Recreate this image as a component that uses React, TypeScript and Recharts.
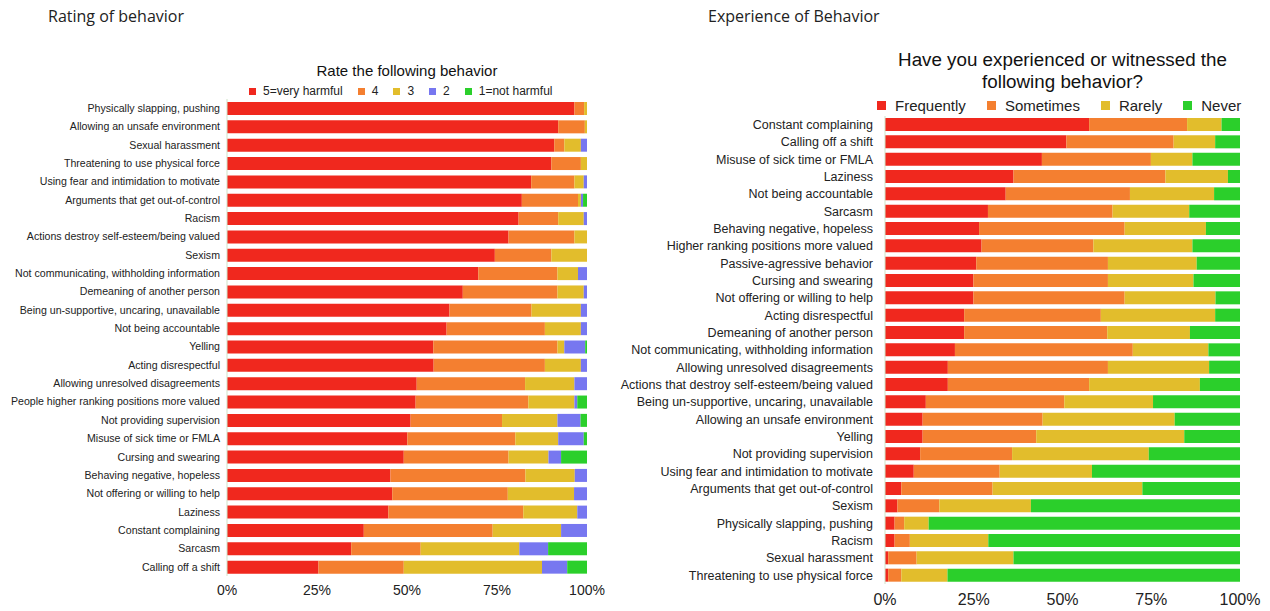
import { BarChart, Bar, XAxis, YAxis } from "recharts";

// Left panel: "Rate the following behavior" (share of answers, top to bottom)
const ratingCategories = [
  "Physically slapping, pushing",
  "Allowing an unsafe environment",
  "Sexual harassment",
  "Threatening to use physical force",
  "Using fear and intimidation to motivate",
  "Arguments that get out-of-control",
  "Racism",
  "Actions destroy self-esteem/being valued",
  "Sexism",
  "Not communicating, withholding information",
  "Demeaning of another person",
  "Being un-supportive, uncaring, unavailable",
  "Not being accountable",
  "Yelling",
  "Acting disrespectful",
  "Allowing unresolved disagreements",
  "People higher ranking positions more valued",
  "Not providing supervision",
  "Misuse of sick time or FMLA",
  "Cursing and swearing",
  "Behaving negative, hopeless",
  "Not offering or willing to help",
  "Laziness",
  "Constant complaining",
  "Sarcasm",
  "Calling off a shift",
];
const ratingVery = [96.5, 92, 90.9, 90.1, 84.5, 81.9, 81, 78.2, 74.4, 69.8, 65.5, 61.8, 61, 57.3, 57.4, 52.7, 52.4, 51, 50.1, 49.1, 45.4, 45.9, 44.8, 38, 34.5, 25.4];
const ratingFour = [2.7, 7.4, 2.8, 8.2, 12, 15.6, 11, 18.3, 15.7, 22, 26.3, 22.8, 27.3, 34.5, 30.9, 30.1, 31.3, 25.4, 30, 29.1, 37.5, 32.1, 37.5, 35.8, 19.3, 23.7];
const ratingThree = [0.8, 0.6, 4.6, 1.7, 2.6, 0.8, 7.1, 3.5, 9.9, 5.7, 7.3, 13.7, 10, 1.9, 10, 13.7, 12.8, 15.4, 11.9, 11.1, 13.7, 18.4, 15, 19, 27.4, 38.4];
const ratingTwo = [0, 0, 1.7, 0, 0.9, 0.6, 0.9, 0, 0, 2.5, 0.9, 1.7, 1.7, 5.8, 1.7, 3.5, 0.8, 6.4, 7.1, 3.5, 3.4, 3.6, 2.7, 7.2, 8, 7];
const ratingNot = [0, 0, 0, 0, 0, 1.1, 0, 0, 0, 0, 0, 0, 0, 0.5, 0, 0, 2.7, 1.8, 0.9, 7.2, 0, 0, 0, 0, 10.8, 5.5];

// Right panel: "Have you experienced or witnessed the following behavior?"
const experienceCategories = [
  "Constant complaining",
  "Calling off a shift",
  "Misuse of sick time or FMLA",
  "Laziness",
  "Not being accountable",
  "Sarcasm",
  "Behaving negative, hopeless",
  "Higher ranking positions more valued",
  "Passive-agressive behavior",
  "Cursing and swearing",
  "Not offering or willing to help",
  "Acting disrespectful",
  "Demeaning of another person",
  "Not communicating, withholding information",
  "Allowing unresolved disagreements",
  "Actions that destroy self-esteem/being valued",
  "Being un-supportive, uncaring, unavailable",
  "Allowing an unsafe environment",
  "Yelling",
  "Not providing supervision",
  "Using fear and intimidation to motivate",
  "Arguments that get out-of-control",
  "Sexism",
  "Physically slapping, pushing",
  "Racism",
  "Sexual harassment",
  "Threatening to use physical force",
];
const expFrequently = [57.5, 51.1, 44.2, 36.2, 34, 29, 26.5, 27.2, 25.7, 24.9, 24.9, 22.3, 22.3, 19.7, 17.7, 17.7, 11.5, 10.6, 10.6, 9.9, 8.1, 4.6, 3.5, 2.7, 2.7, 0.9, 0.9];
const expSometimes = [27.6, 30.2, 30.7, 42.8, 35, 35.1, 41, 31.5, 37.1, 37.9, 42.6, 38.5, 40.3, 50.1, 45.1, 39.8, 39, 33.8, 32, 25.9, 24.2, 25.7, 11.8, 2.7, 4.3, 8, 3.7];
const expRarely = [9.7, 11.7, 11.7, 17.6, 23.7, 21.6, 22.9, 27.9, 25, 24.1, 25.6, 32.2, 23.3, 21.3, 28.5, 31.2, 25, 37.2, 41.7, 38.5, 26, 42.2, 25.8, 6.9, 22.1, 27.3, 13];
const expNever = [5.2, 7, 13.4, 3.4, 7.3, 14.3, 9.6, 13.4, 12.2, 13.1, 6.9, 7, 14.1, 8.9, 8.7, 11.3, 24.5, 18.4, 15.7, 25.7, 41.7, 27.5, 58.9, 87.7, 70.9, 63.8, 82.4];

const pctTicks = [0, 0.25, 0.5, 0.75, 1];

const RED = "#f0281e";
const ORANGE = "#f47f30";
const YELLOW = "#e2bd2c";
const BLUE = "#7777f0";
const GREEN = "#2bcf2b";

const SANS = "'Liberation Sans', Arial, sans-serif";

const ratingData = ratingCategories.map((name, i) => ({
  name,
  very: ratingVery[i],
  four: ratingFour[i],
  three: ratingThree[i],
  two: ratingTwo[i],
  not: ratingNot[i],
}));

const experienceData = experienceCategories.map((name, i) => ({
  name,
  frequently: expFrequently[i],
  sometimes: expSometimes[i],
  rarely: expRarely[i],
  never: expNever[i],
}));

const ratingLegend = [
  { label: "5=very harmful", color: RED },
  { label: "4", color: ORANGE },
  { label: "3", color: YELLOW },
  { label: "2", color: BLUE },
  { label: "1=not harmful", color: GREEN },
];

const experienceLegend = [
  { label: "Frequently", color: RED },
  { label: "Sometimes", color: ORANGE },
  { label: "Rarely", color: YELLOW },
  { label: "Never", color: GREEN },
];

function Legend({ items, fontSize, square, gap, style }: any) {
  return (
    <div style={{ position: "absolute", display: "flex", alignItems: "center", fontFamily: SANS, fontSize, color: "#222", whiteSpace: "nowrap", ...style }}>
      {items.map((it: any) => (
        <span key={it.label} style={{ display: "flex", alignItems: "center", marginRight: gap }}>
          <span style={{ width: square, height: square, background: it.color, display: "inline-block", marginRight: square }} />
          {it.label}
        </span>
      ))}
    </div>
  );
}

// single-line category label (the default tick wraps long names)
function CategoryTick({ x, y, payload, fontSize }: any) {
  return (
    <text x={x} y={y} dy="0.355em" textAnchor="end" fontFamily={SANS} fontSize={fontSize} fill="#222">
      {payload.value}
    </text>
  );
}

const pct = (v: number) => `${Math.round(v * 100)}%`;

export default function App() {
  return (
    <div style={{ position: "absolute", left: 0, top: 0, width: 1270, height: 611, background: "#fff", overflow: "hidden" }}>
      <div style={{ position: "absolute", left: 48, top: 5, fontFamily: "'Open Sans', sans-serif", fontSize: 16, color: "#222" }}>
        Rating of behavior
      </div>
      <div style={{ position: "absolute", left: 708, top: 5, fontFamily: "'Open Sans', sans-serif", fontSize: 16, color: "#222" }}>
        Experience of Behavior
      </div>

      <div style={{ position: "absolute", left: 227, width: 360, top: 62, textAlign: "center", fontFamily: SANS, fontSize: 15, color: "#111" }}>
        Rate the following behavior
      </div>
      <Legend items={ratingLegend} fontSize={12} square={7} gap={15} style={{ left: 249, top: 84 }} />

      <div style={{ position: "absolute", left: 870, width: 385, top: 49, textAlign: "center", fontFamily: SANS, fontSize: 18.8, lineHeight: "22px", color: "#111" }}>
        Have you experienced or witnessed the
        <br />
        following behavior?
      </div>
      <Legend items={experienceLegend} fontSize={15} square={9} gap={21} style={{ left: 877, top: 97 }} />

      <div style={{ position: "absolute", left: 0, top: 0 }}>
        <BarChart
          width={620}
          height={611}
          data={ratingData}
          layout="vertical"
          stackOffset="expand"
          barSize={13}
          margin={{ top: 99, right: 33, bottom: 5, left: 0 }}
        >
          <XAxis
            type="number"
            domain={[0, 1]}
            ticks={pctTicks}
            tickFormatter={pct}
            axisLine={false}
            tickLine={false}
            tickSize={0}
            tickMargin={9}
            height={30}
            tick={{ fontFamily: SANS, fontSize: 14, fill: "#222" }}
          />
          <YAxis
            type="category"
            dataKey="name"
            width={227}
            interval={0}
            axisLine={{ stroke: "#cfe3c8" }}
            tickLine={false}
            tickSize={0}
            tickMargin={7}
            tick={<CategoryTick fontSize={10.6} />}
          />
          <Bar dataKey="very" stackId="r" fill={RED} isAnimationActive={false} />
          <Bar dataKey="four" stackId="r" fill={ORANGE} isAnimationActive={false} />
          <Bar dataKey="three" stackId="r" fill={YELLOW} isAnimationActive={false} />
          <Bar dataKey="two" stackId="r" fill={BLUE} isAnimationActive={false} />
          <Bar dataKey="not" stackId="r" fill={GREEN} isAnimationActive={false} />
        </BarChart>
      </div>

      <div style={{ position: "absolute", left: 620, top: 0 }}>
        <BarChart
          width={650}
          height={611}
          data={experienceData}
          layout="vertical"
          stackOffset="expand"
          barSize={13}
          margin={{ top: 116, right: 30, bottom: 0, left: 0 }}
        >
          <XAxis
            type="number"
            domain={[0, 1]}
            ticks={pctTicks}
            tickFormatter={pct}
            axisLine={false}
            tickLine={false}
            tickSize={0}
            tickMargin={10}
            height={27}
            tick={{ fontFamily: SANS, fontSize: 16, fill: "#222" }}
          />
          <YAxis
            type="category"
            dataKey="name"
            width={265}
            interval={0}
            axisLine={{ stroke: "#cfe3c8" }}
            tickLine={false}
            tickSize={0}
            tickMargin={12}
            tick={<CategoryTick fontSize={12.5} />}
          />
          <Bar dataKey="frequently" stackId="e" fill={RED} isAnimationActive={false} />
          <Bar dataKey="sometimes" stackId="e" fill={ORANGE} isAnimationActive={false} />
          <Bar dataKey="rarely" stackId="e" fill={YELLOW} isAnimationActive={false} />
          <Bar dataKey="never" stackId="e" fill={GREEN} isAnimationActive={false} />
        </BarChart>
      </div>
    </div>
  );
}
